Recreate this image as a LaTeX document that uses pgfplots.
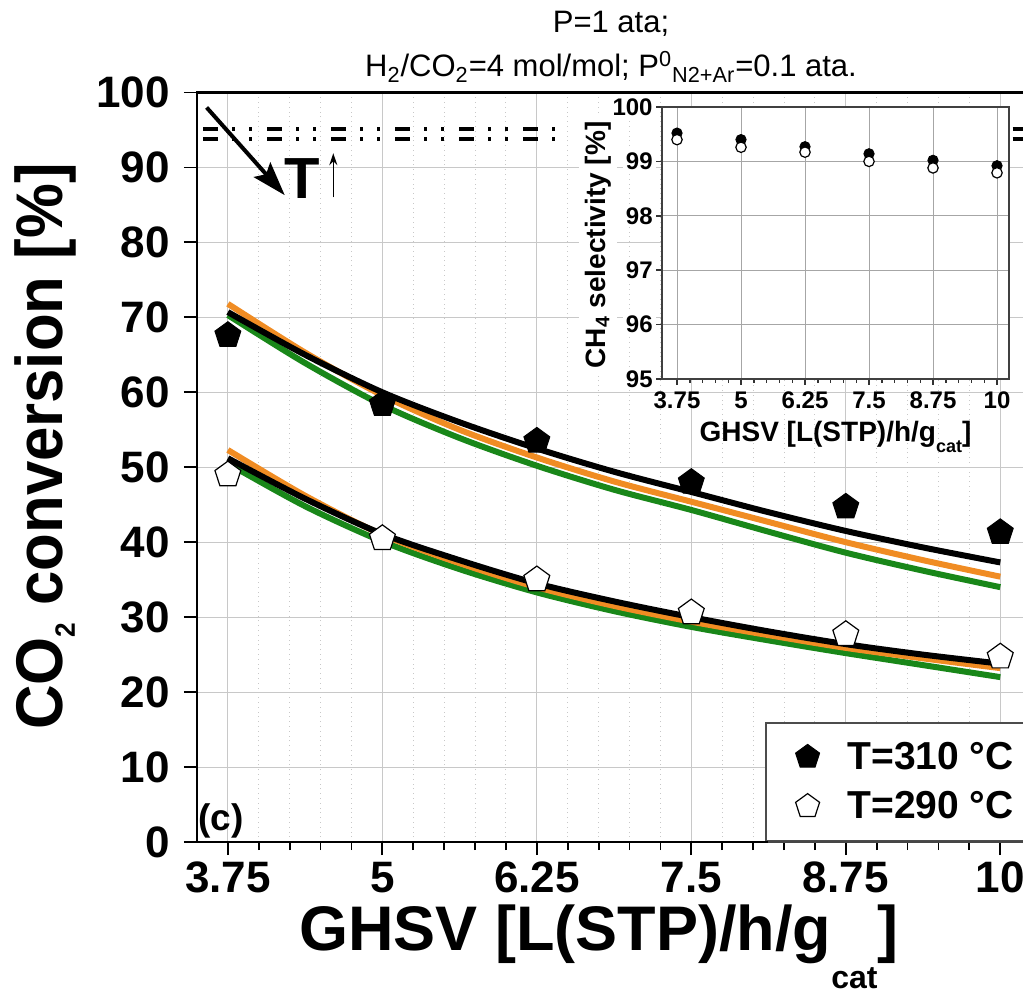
\documentclass[border=0pt]{standalone}
\usepackage{fontspec}
\setmainfont{Liberation Sans}
\usepackage{graphicx}
\usepackage{pgfplots}
\pgfplotsset{compat=1.18}
\usetikzlibrary{arrows.meta,shadows}
\definecolor{corange}{RGB}{240,140,35}
\definecolor{cgreen}{RGB}{25,135,25}
\definecolor{gridc}{RGB}{200,200,200}
\pgfplotsset{mylegimg/.style={legend image code/.code={\path (-10pt,0pt) (10pt,0pt); \draw[##1, mark size=6.3pt] plot coordinates {(0pt,0pt)};}}}

\pgfplotstableread{
x     bk    or    gr
3.75  70.7  71.8  70.3
4.375 65.0  65.3  63.9
5     60.0  59.6  58.3
5.625 56.0  55.0  53.9
6.25  52.5  51.3  50.2
6.875 49.4  48.1  47.0
7.5   46.7  45.4  44.3
8.125 44.0  42.7  41.4
8.75  41.5  40.0  38.6
9.375 39.3  37.6  36.2
10    37.3  35.4  34.0
}\tabhot
\pgfplotstableread{
x     bk    or    gr
3.75  51.2  52.3  50.5
4.375 45.8  46.2  44.8
5     41.1  41.0  40.1
5.625 37.6  37.2  36.4
6.25  34.5  34.0  33.3
6.875 32.1  31.5  30.8
7.5   30.0  29.4  28.7
8.125 28.1  27.6  26.9
8.75  26.4  25.9  25.2
9.375 25.0  24.5  23.6
10    23.8  23.2  22.0
}\tabcold

\begin{document}
\begin{tikzpicture}
\begin{axis}[
  at={(0,0)}, anchor=south west,
  scale only axis, width=414pt, height=374.75pt,
  xmin=3.5, xmax=10.2, ymin=0, ymax=100,
  xtick={3.75,5,6.25,7.5,8.75,10},
  xticklabels={3.75,5,6.25,7.5,8.75,10},
  minor x tick num=4,
  ytick={0,10,...,100},
  tick align=outside,
  xtick pos=bottom, ytick pos=left,
  major tick length=6.5pt, minor tick length=4pt,
  tick style={black, line width=0.9pt},
  grid=both,
  major grid style={gridc, line width=0.5pt},
  minor grid style={gridc, dotted, line width=0.5pt},
  axis line style={line width=1.1pt},
  /pgf/number format/assume math mode=true,
  ticklabel style={font=\fontsize{22}{26}\selectfont\bfseries},
  yticklabel style={xshift=-3.5pt},
  xlabel={GHSV [L(STP)/h/g\raisebox{-19pt}{\fontsize{16}{16}\selectfont cat}]},
  xlabel style={at={(axis description cs:0.4855,0)}, anchor=base, yshift=-54pt, font=\fontsize{31.5}{36}\selectfont\bfseries},
  ylabel={\scalebox{0.935}[1]{CO\raisebox{-6pt}{\fontsize{14}{14}\selectfont 2} conversion [\%]}},
  ylabel style={at={(axis description cs:-0.162,0.906)}, anchor=base east, inner sep=0pt, font=\fontsize{33}{38}\selectfont\bfseries},
  clip=false,
  legend cell align=left,
  legend style={at={(rel axis cs:0.686,0.160)}, anchor=north west,
    font=\fontsize{19.5}{23}\selectfont\bfseries,
    draw=black!70, line width=0.8pt, fill=white,
    inner xsep=10.5pt, inner ysep=7.5pt, row sep=5.5pt, column sep=7.5pt,
    nodes={inner sep=2pt},
    drop shadow={shadow xshift=1pt, shadow yshift=-1.5pt, fill=black!45}},
]
% equilibrium lines
\addplot[forget plot, line width=2.2pt, dash pattern=on 7.5pt off 7pt on 1.5pt off 7pt on 1.5pt off 7.5pt] coordinates {(3.55,95.1) (6.42,95.1)};
\addplot[forget plot, line width=2.2pt, dash pattern=on 7.5pt off 7pt on 1.5pt off 7pt on 1.5pt off 7.5pt] coordinates {(3.55,93.8) (6.42,93.8)};
\addplot[forget plot, line width=2.2pt, dash pattern=on 7.5pt off 7pt on 1.5pt off 7pt on 1.5pt off 7.5pt] coordinates {(10.10,95.1) (10.2,95.1)};
\addplot[forget plot, line width=2.2pt, dash pattern=on 7.5pt off 7pt on 1.5pt off 7pt on 1.5pt off 7.5pt] coordinates {(10.10,93.8) (10.2,93.8)};
% model curves
\addplot[forget plot, cgreen, line width=3pt, smooth] table[x=x,y=gr] {\tabhot};
\addplot[forget plot, corange, line width=3pt, smooth] table[x=x,y=or] {\tabhot};
\addplot[forget plot, black, line width=3pt, smooth] table[x=x,y=bk] {\tabhot};
\addplot[forget plot, cgreen, line width=3pt, smooth] table[x=x,y=gr] {\tabcold};
\addplot[forget plot, corange, line width=3pt, smooth] table[x=x,y=or] {\tabcold};
\addplot[forget plot, black, line width=3pt, smooth] table[x=x,y=bk] {\tabcold};
% experimental points
\addplot[only marks, mark=pentagon*, mark size=6.8pt, black, mark options={fill=black, draw=black, line width=0.5pt}, mylegimg]
  coordinates {(3.75,67.6) (5,58.4) (6.25,53.5) (7.5,48.0) (8.75,44.7) (10,41.3)};
\addlegendentry{T=310 °C}
\addplot[only marks, mark=pentagon*, mark size=6.8pt, black, mark options={fill=white, draw=black, line width=0.6pt}, mylegimg]
  coordinates {(3.75,49.0) (5,40.5) (6.25,35.0) (7.5,30.6) (8.75,27.7) (10,24.7)};
\addlegendentry{T=290 °C}
% annotations
\draw[line width=2pt, -{Stealth[length=17pt,width=11pt,inset=3pt]}] (axis cs:3.578,98.0) -- (axis cs:4.21,86.3);
\node[anchor=base, inner sep=0pt, font=\fontsize{29}{30}\selectfont\bfseries] at (axis cs:4.35,85.9) {T};
\draw[line width=0.7pt, -{Stealth[length=6pt,width=4pt]}] (axis cs:4.603,86.0) -- (axis cs:4.603,91.9);
\node[anchor=base west, inner sep=0pt, font=\fontsize{18.5}{20}\selectfont\bfseries] at (axis cs:3.51,1.6) {(c)};
\node[anchor=base, inner sep=0pt, font=\fontsize{15.5}{18}\selectfont] at (rel axis cs:0.5,1) [yshift=29.75pt] {P=1 ata;};
\node[anchor=base, inner sep=0pt, font=\fontsize{15.5}{18}\selectfont] at (rel axis cs:0.5,1) [yshift=7.75pt] {H\textsubscript{2}/CO\textsubscript{2}=4 mol/mol; P\textsuperscript{0}\textsubscript{N2+Ar}=0.1 ata.};
\end{axis}

% inset
\begin{axis}[
  at={(232.5pt,231.5pt)}, anchor=south west,
  scale only axis, width=173.5pt, height=136pt,
  xmin=3.457, xmax=10.234, ymin=95, ymax=100,
  xtick={3.75,5,6.25,7.5,8.75,10},
  xticklabels={3.75,5,6.25,7.5,8.75,10},
  minor x tick num=4,
  ytick={95,96,97,98,99,100},
  tick align=outside,
  xtick pos=bottom, ytick pos=left,
  major tick length=3pt, minor tick length=2pt,
  tick style={black!80, line width=0.7pt},
  grid=major,
  major grid style={black!35, line width=0.5pt},
  axis background/.style={fill=white},
  axis line style={black!75, line width=0.9pt},
  /pgf/number format/assume math mode=true,
  ticklabel style={font=\fontsize{12}{14}\selectfont\bfseries},
  yticklabel style={fill=white, inner sep=1.5pt},
  xlabel={GHSV [L(STP)/h/g\raisebox{-5.5pt}{\fontsize{9}{9}\selectfont cat}]},
  xlabel style={at={(axis description cs:0.5,0)}, anchor=base, yshift=-31.5pt, font=\fontsize{14}{17}\selectfont\bfseries},
  ylabel={CH\textsubscript{4} selectivity [\%]},
  ylabel style={at={(axis description cs:-0.164,0.493)}, anchor=base, fill=white, inner sep=3pt, font=\fontsize{14}{17}\selectfont\bfseries},
]
\addplot[only marks, mark=*, mark size=2.6pt, black, mark options={fill=black}]
  coordinates {(3.75,99.52) (5,99.40) (6.25,99.27) (7.5,99.14) (8.75,99.02) (10,98.92)};
\addplot[only marks, mark=*, mark size=2.6pt, black, mark options={fill=white, line width=0.6pt}]
  coordinates {(3.75,99.40) (5,99.26) (6.25,99.17) (7.5,99.00) (8.75,98.88) (10,98.79)};
\end{axis}

\pgfresetboundingbox
\path[use as bounding box] (-98.5pt,-77pt) rectangle (413pt,421pt);
\end{tikzpicture}
\end{document}
